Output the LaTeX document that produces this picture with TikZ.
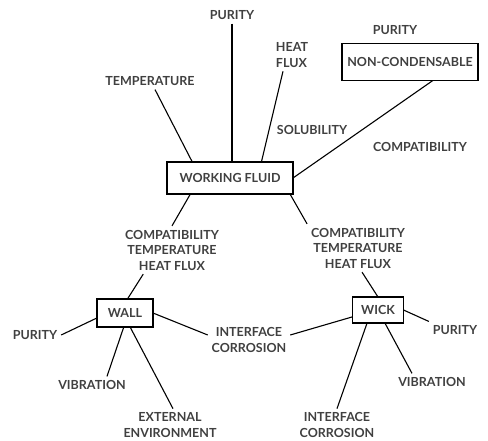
\documentclass[tikz,border=0pt]{standalone}
\usepackage{fontspec}
\setmainfont{Lato}
\usepackage{tikz}
\usetikzlibrary{positioning}

\begin{document}
\begin{tikzpicture}[x=1pt,y=-1pt,line width=1.1pt,
  l/.style={font=\fontsize{12.5}{15.5}\selectfont\bfseries,text=black!75,align=center,inner sep=1pt,outer sep=3pt},
  b/.style 2 args={l,draw=black,line width=1.4pt,outer sep=0pt,inner sep=0pt,minimum width=#1,minimum height=#2}]
\useasboundingbox (0,0) rectangle (488,441);
% boxes
\node[b={126pt}{32pt}] (wf) at (230,178) {WORKING FLUID};
\node[b={136pt}{37pt}] (nc) at (410,62) {NON-CONDENSABLE};
\node[b={56pt}{28pt}] (wall) at (125,313) {WALL};
\node[b={51pt}{26pt}] (wick) at (378,310) {WICK};
% labels round the working fluid
\node[l] (p1) at (232,15) {PURITY};
\node[l] (temp) at (150,81) {TEMPERATURE};
\node[l,align=left] (hf) at (292,55) {HEAT\\FLUX};
\node[l] (sol) at (312,130) {SOLUBILITY};
\node[l] (p2) at (395,30) {PURITY};
\node[l] (comp) at (420,147) {COMPATIBILITY};
\node[l] (lc) at (172,250) {COMPATIBILITY\\TEMPERATURE\\HEAT FLUX};
\node[l] (rc) at (358,248) {COMPATIBILITY\\TEMPERATURE\\HEAT FLUX};
% labels round wall and wick
\node[l] (p3) at (35,335) {PURITY};
\node[l] (vib1) at (92,385) {VIBRATION};
\node[l] (ext) at (170,425) {EXTERNAL\\ENVIRONMENT};
\node[l] (ic1) at (249,340) {INTERFACE\\CORROSION};
\node[l] (p4) at (455,330) {PURITY};
\node[l] (vib2) at (432,382) {VIBRATION};
\node[l] (ic2) at (337,425) {INTERFACE\\CORROSION};
% connectors
\draw (p1.south) -- (p1.south |- wf.north);
\draw ([xshift=5pt]temp.south) -- (wf.157);
\draw ([xshift=-9pt]hf.south) -- (wf.27);
\draw (nc.-39) -- (wf.east);
\draw (wf.202) -- (lc.north);
\draw (lc.220) -- (wall.80);
\draw (wall.190) -- (p3.east);
\draw (wall.265) -- ([xshift=15pt]vib1.north);
\draw (wall.-70) -- ([xshift=3pt]ext.north);
\draw (wall.east) -- ([yshift=5pt]ic1.west);
\draw ([xshift=-3pt]wf.south east) -- (rc.north west);
\draw ([xshift=4pt]rc.south) -- (wick.north);
\draw (wick.east) -- (p4.north west);
\draw (wick.-62) -- ([xshift=-20pt]vib2.north);
\draw (wick.230) -- (ic2.north);
\draw (wick.195) -- ([yshift=5pt]ic1.east);
\end{tikzpicture}
\end{document}
